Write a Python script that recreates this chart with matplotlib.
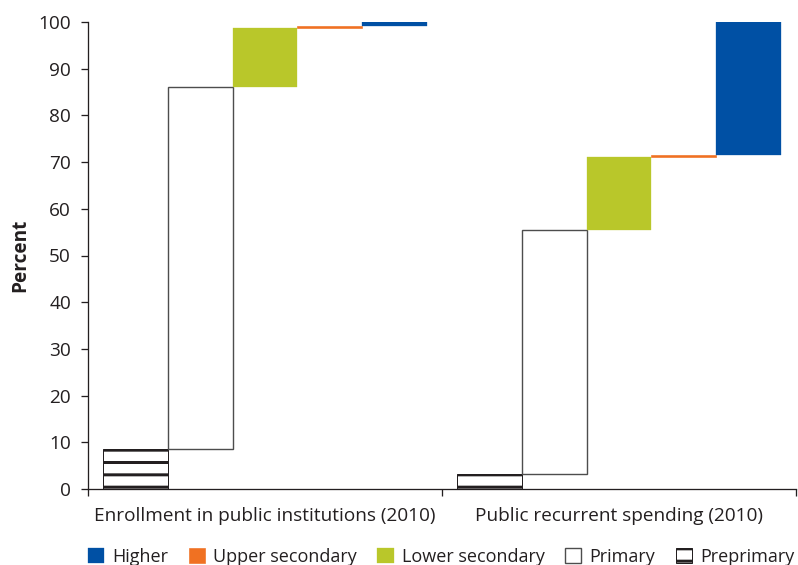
import matplotlib
matplotlib.use("Agg")
import matplotlib.pyplot as plt
import numpy as np

categories = ["Enrollment in public institutions (2010)", "Public recurrent spending (2010)"]
levels = ["Preprimary", "Primary", "Lower secondary", "Upper secondary", "Higher"]
enrollment = [8.6, 77.4, 12.7, 0.4, 0.9]
spending = [3.2, 52.3, 15.6, 0.4, 28.5]
yticks = [0, 10, 20, 30, 40, 50, 60, 70, 80, 90, 100]

DPI = 74
PX = 72.0 / DPI  # points per pixel
plt.rcParams['font.family'] = ['Open Sans', 'DejaVu Sans']
plt.rcParams['hatch.linewidth'] = 3.0 * PX

FS = 19 * PX
DARK = "#231f20"

styles = {
    "Preprimary": dict(facecolor="white", edgecolor=DARK, hatch="-", linewidth=1.0 * PX),
    "Primary": dict(facecolor="white", edgecolor="#4d4d4d", linewidth=1.4 * PX),
    "Lower secondary": dict(facecolor="#b9c72a", edgecolor="#b9c72a", linewidth=0.3),
    "Upper secondary": dict(facecolor="#f07122", edgecolor="#f07122", linewidth=0.6),
    "Higher": dict(facecolor="#0050a4", edgecolor="#0050a4", linewidth=0.3),
}

fig = plt.figure(figsize=(799 / DPI, 565 / DPI), dpi=DPI)
ax = fig.add_axes([88 / 799, 76 / 565, 708 / 799, 467 / 565])

width = 0.1825
data = [enrollment, spending]
centers = [0.5, 1.5]
handles = {}
for c, vals in zip(centers, data):
    bottom = 0.0
    for i, (lev, v) in enumerate(zip(levels, vals)):
        x = c + (i - 2) * width
        b = ax.bar(x, v, width=width, bottom=bottom, **styles[lev])
        handles[lev] = b
        bottom += v

ax.set_xlim(0, 2)
ax.set_ylim(0, 100)
ax.set_yticks(yticks)
ax.set_xticks([0, 1, 2])
ax.set_xticklabels([])
ax.set_xticks(centers, minor=True)
ax.set_xticklabels(categories, minor=True, fontsize=FS, color=DARK)
ax.tick_params(axis='x', which='minor', length=0, pad=18 * PX)
ax.tick_params(axis='x', which='major', length=7 * PX, width=1.3 * PX, color=DARK)
ax.tick_params(axis='y', length=7 * PX, width=1.3 * PX, color=DARK, labelsize=FS,
               labelcolor=DARK, pad=10 * PX)
for s in ["top", "right"]:
    ax.spines[s].set_visible(False)
for s in ["left", "bottom"]:
    ax.spines[s].set_color(DARK)
    ax.spines[s].set_linewidth(1.3 * PX)
ax.set_ylabel("Percent", fontsize=FS, fontweight="bold", color=DARK, labelpad=8 * PX)

order = ["Higher", "Upper secondary", "Lower secondary", "Primary", "Preprimary"]
fig.legend([handles[k] for k in order], order, loc="lower center", ncol=5,
           bbox_to_anchor=(0.552, -0.02), frameon=False, fontsize=18 * PX,
           handlelength=0.9, handleheight=0.9, handletextpad=0.45,
           columnspacing=1.15, labelcolor=DARK, borderpad=0.1)

fig.savefig("out.png", dpi=DPI)
